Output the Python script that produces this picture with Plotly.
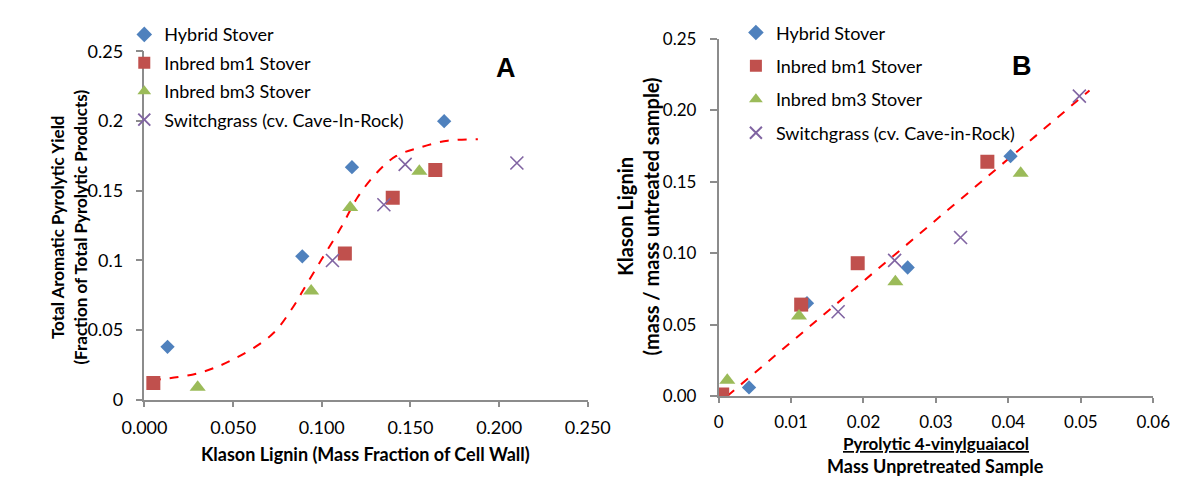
import plotly.graph_objects as go

# ---- Panel A: Klason lignin vs total aromatic pyrolytic yield ----
a_hybrid_x = [0.013, 0.089, 0.117, 0.169]
a_hybrid_y = [0.038, 0.103, 0.167, 0.200]
a_bm1_x = [0.005, 0.113, 0.140, 0.164]
a_bm1_y = [0.012, 0.105, 0.145, 0.165]
a_bm3_x = [0.030, 0.094, 0.116, 0.155]
a_bm3_y = [0.009, 0.078, 0.138, 0.164]
a_sw_x = [0.106, 0.135, 0.147, 0.210]
a_sw_y = [0.100, 0.140, 0.169, 0.170]
# fitted curve, points
a_fit_x = [0.004, 0.030, 0.050, 0.072, 0.084, 0.091, 0.100, 0.111, 0.120, 0.131, 0.142, 0.155, 0.171, 0.188]
a_fit_y = [0.014, 0.019, 0.029, 0.047, 0.067, 0.082, 0.101, 0.124, 0.145, 0.163, 0.175, 0.181, 0.186, 0.187]

# ---- Panel B: pyrolytic 4-vinylguaiacol vs Klason lignin ----
b_hybrid_x = [0.0042, 0.0122, 0.0261, 0.0403]
b_hybrid_y = [0.006, 0.065, 0.090, 0.168]
b_bm1_x = [0.0005, 0.0114, 0.0192, 0.0371]
b_bm1_y = [0.001, 0.064, 0.093, 0.164]
b_bm3_x = [0.0012, 0.0111, 0.0244, 0.0417]
b_bm3_y = [0.011, 0.056, 0.080, 0.156]
b_sw_x = [0.0165, 0.0243, 0.0334, 0.0498]
b_sw_y = [0.059, 0.095, 0.111, 0.210]
b_fit_x = [0.0012, 0.0512]
b_fit_y = [0.000, 0.214]

names = ['Hybrid Stover', 'Inbred bm1 Stover', 'Inbred bm3 Stover']
sw_name_a = 'Switchgrass (cv. Cave-In-Rock)'
sw_name_b = 'Switchgrass (cv. Cave-in-Rock)'

BLUE = '#4F81BD'
RED = '#C0504D'
GREEN = '#9BBB59'
PURPLE = '#8064A2'
FONT = 'Lato'

fig = go.Figure()


def add_panel(xs, ys, fit_x, fit_y, xaxis, yaxis, legend, sw_name, shape):
    styles = [
        dict(symbol='diamond', size=11, color=BLUE),
        dict(symbol='square', size=14, color=RED),
        dict(symbol='triangle-up', size=14, color=GREEN),
        dict(symbol='x-thin-open', size=13, color=PURPLE, line=dict(width=1.6, color=PURPLE)),
    ]
    labels = names + [sw_name]
    # fit line first so markers sit on top
    fig.add_trace(go.Scatter(
        x=fit_x, y=fit_y, mode='lines', showlegend=False,
        line=dict(color='#FF0000', width=2, dash='dash', shape=shape, smoothing=1.0),
        xaxis=xaxis, yaxis=yaxis, hoverinfo='skip'
    ))
    for i, (x, y) in enumerate(zip(xs, ys)):
        fig.add_trace(go.Scatter(
            x=x, y=y, mode='markers', name=labels[i],
            marker=styles[i], xaxis=xaxis, yaxis=yaxis,
            legend=legend, legendgroup=f'{legend}_{i}'
        ))


add_panel([a_hybrid_x, a_bm1_x, a_bm3_x, a_sw_x],
          [a_hybrid_y, a_bm1_y, a_bm3_y, a_sw_y],
          a_fit_x, a_fit_y, 'x', 'y', 'legend', sw_name_a, 'spline')
add_panel([b_hybrid_x, b_bm1_x, b_bm3_x, b_sw_x],
          [b_hybrid_y, b_bm1_y, b_bm3_y, b_sw_y],
          b_fit_x, b_fit_y, 'x2', 'y2', 'legend2', sw_name_b, 'linear')

W, H = 1200, 481


def px(x):
    return x / W


def py(y):
    return 1 - y / H


axis_common = dict(
    showgrid=False, zeroline=False, showline=True,
    linecolor='#8c8c8c', linewidth=1.5,
    ticks='outside', tickcolor='#8c8c8c', tickwidth=1.5,
)

fig.update_layout(
    width=W, height=H,
    margin=dict(l=0, r=0, t=0, b=0),
    plot_bgcolor='white', paper_bgcolor='white',
    font=dict(family=FONT, color='black'),
    xaxis=dict(domain=[px(118), px(579)], range=[0, 0.25], dtick=0.05,
               tickformat='.3f', ticklen=5, ticklabelstandoff=6,
               tickfont=dict(family=FONT, size=18, color='black'), anchor='y', **axis_common),
    yaxis=dict(domain=[py(398), py(33)], range=[0, 0.25], dtick=0.05,
               ticklen=7, ticklabelstandoff=9,
               tickfont=dict(family=FONT, size=18, color='black'), anchor='x', **axis_common),
    xaxis2=dict(domain=[px(715), px(1167)], range=[0, 0.06], dtick=0.01,
                ticklen=5, ticklabelstandoff=5,
                tickfont=dict(family=FONT, size=17, color='black'), anchor='y2', **axis_common),
    yaxis2=dict(domain=[py(394), py(20)], range=[0, 0.25], dtick=0.05,
                tickformat='.2f', ticklen=7, ticklabelstandoff=10,
                tickfont=dict(family=FONT, size=17, color='black'), anchor='x2', **axis_common),
    legend=dict(x=px(97), y=1 + 4 / H, xanchor='left', yanchor='top',
                font=dict(family=FONT, size=18, color='black'),
                bgcolor='rgba(0,0,0,0)', tracegroupgap=2, itemsizing='constant'),
    legend2=dict(x=px(733), y=1 + 6 / H, xanchor='left', yanchor='top',
                 font=dict(family=FONT, size=18, color='black'),
                 bgcolor='rgba(0,0,0,0)', tracegroupgap=7, itemsizing='constant'),
)

ann = [
    dict(text='<b>A</b>', x=px(494), y=py(50), font=dict(size=27, family='Liberation Sans')),
    dict(text='<b>B</b>', x=px(1031), y=py(48), font=dict(size=27, family='Liberation Sans')),
    dict(text='<b>Total Aromatic Pyrolytic Yield<br>(Fraction of Total Pyrolytic Products)</b>',
         x=px(39), y=py(217), textangle=-90, font=dict(size=17, family=FONT)),
    dict(text='<b>Klason Lignin (Mass Fraction of Cell Wall)</b>',
         x=px(348), y=py(455), font=dict(size=18, family=FONT)),
    dict(text='<b>Klason Lignin<br>(mass / mass untreated sample)</b>',
         x=px(631), y=py(206), textangle=-90, font=dict(size=20, family=FONT)),
    dict(text='<b><u>Pyrolytic 4-vinylguaiacol</u></b>',
         x=px(941), y=py(444), font=dict(size=17, family=FONT)),
    dict(text='<b>Mass Unpretreated Sample</b>',
         x=px(941), y=py(467), font=dict(size=18, family=FONT)),
]
for a in ann:
    fig.add_annotation(xref='paper', yref='paper', showarrow=False,
                       xanchor='center', yanchor='middle', **a)

fig.write_html("out.html")
